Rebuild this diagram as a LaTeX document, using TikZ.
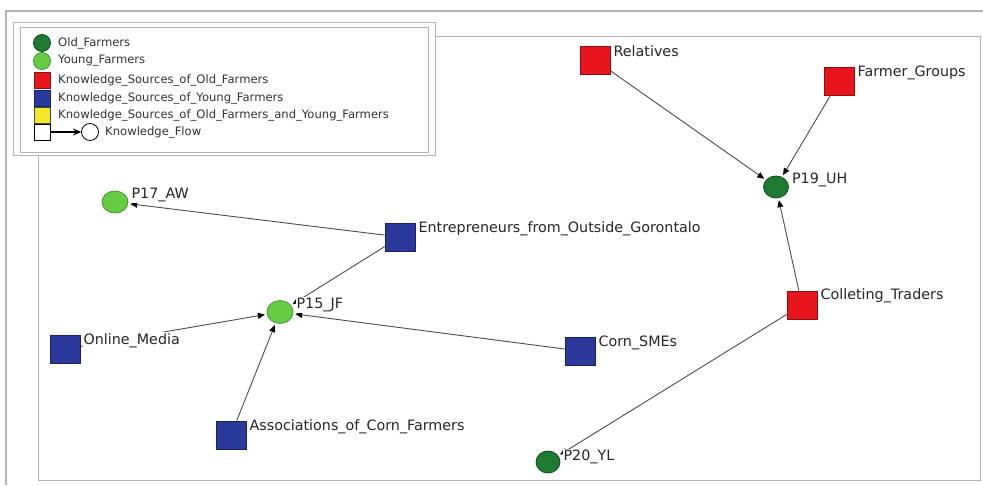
\documentclass[tikz,border=0pt]{standalone}
\usepackage{fontspec}
\setmainfont{DejaVu Sans}
\usetikzlibrary{arrows.meta,backgrounds,shapes.geometric}
\definecolor{oldg}{HTML}{1E7A33}
\definecolor{oldgb}{HTML}{0F4F1C}
\definecolor{youngg}{HTML}{66CC44}
\definecolor{younggb}{HTML}{3C9A2C}
\definecolor{srcred}{HTML}{E8161C}
\definecolor{srcredb}{HTML}{8A1010}
\definecolor{srcblue}{HTML}{2B3A9A}
\definecolor{srcblueb}{HTML}{18206A}
\definecolor{srcyel}{HTML}{F2E82A}
\definecolor{frameg}{HTML}{B4B4B4}
\begin{document}
\begin{tikzpicture}[x=1pt,y=-1pt,
  sq/.style={rectangle,draw,line width=0.8pt,minimum width=30pt,minimum height=28pt,inner sep=0pt},
  oldn/.style={ellipse,draw=oldgb,fill=oldg,line width=0.8pt,minimum width=25pt,minimum height=22pt,inner sep=0pt},
  youngn/.style={ellipse,draw=younggb,fill=youngg,line width=0.8pt,minimum width=26pt,minimum height=22pt,inner sep=0pt},
  redsq/.style={sq,draw=srcredb,fill=srcred},
  bluesq/.style={sq,draw=srcblueb,fill=srcblue},
  lbl/.style={fill=white,inner sep=1pt,text=black!85,anchor=west,font=\fontsize{14.3}{16}\selectfont},
  edge/.style={draw=black!70,line width=0.9pt,-{Triangle[length=7pt,width=6pt,color=black]},shorten >=2pt},
  legtxt/.style={anchor=west,inner sep=0pt,text=black!80,font=\fontsize{11.6}{13}\selectfont},
  legsq/.style={rectangle,draw,line width=0.8pt,minimum size=16pt,inner sep=0pt},
  legci/.style={circle,draw,line width=0.8pt,minimum size=17pt,inner sep=0pt}]
\useasboundingbox (0,0) rectangle (983,485);

% frames
\draw[frameg,line width=1.6pt] (6,485) -- (6,11) -- (983,11);
\draw[frameg,line width=0.8pt] (38,36) rectangle (980,480);

% legend
\node[draw=frameg,fill=white,line width=0.8pt,minimum width=422pt,minimum height=133pt,inner sep=0pt] (legout) at (224,88.5) {};
\node[draw=frameg,fill=white,line width=0.8pt,minimum width=408pt,minimum height=125pt,inner sep=0pt] (legin) at (224,89.5) {};
\node[legci,draw=oldgb,fill=oldg] (l1) at (42,43) {};
\node[legtxt] at (58,43) {Old\_Farmers};
\node[legci,draw=younggb,fill=youngg] (l2) at (42,61) {};
\node[legtxt] at (58,61) {Young\_Farmers};
\node[legsq,draw=srcredb,fill=srcred] (l3) at (42,80) {};
\node[legtxt] at (58,80) {Knowledge\_Sources\_of\_Old\_Farmers};
\node[legsq,draw=srcblueb,fill=srcblue] (l4) at (42,98) {};
\node[legtxt] at (58,98) {Knowledge\_Sources\_of\_Young\_Farmers};
\node[legsq,draw=black!70,fill=srcyel] (l5) at (42,115) {};
\node[legtxt] at (58,115) {Knowledge\_Sources\_of\_Old\_Farmers\_and\_Young\_Farmers};
\node[legsq,draw=black,fill=white] (l6a) at (42,132) {};
\node[legci,draw=black,fill=white] (l6b) at (90,132) {};
\draw[black,line width=1.5pt,-{Stealth[length=8pt,width=7pt]}] (l6a) -- (l6b);
\node[legtxt] at (105,132) {Knowledge\_Flow};

% nodes
\node[youngn] (p17) at (115,202) {};
\node[youngn,minimum height=23pt] (p15) at (280,312) {};
\node[oldn] (p19) at (776,187) {};
\node[oldn,minimum width=24pt] (p20) at (548,462) {};
\node[bluesq] (ent) at (400,237) {};
\node[bluesq] (onl) at (65,349) {};
\node[bluesq] (ass) at (231,435) {};
\node[bluesq] (smes) at (580,351) {};
\node[redsq] (rel) at (595,60) {};
\node[redsq] (fg) at (839,81) {};
\node[redsq] (ct) at (802,305) {};

% edges
\begin{pgfonlayer}{background}
\draw[edge] (ent) -- (p17);
\draw[edge] (ent) -- (p15);
\draw[edge] (onl) -- (p15);
\draw[edge] (ass) -- (p15);
\draw[edge] (smes) -- (p15);
\draw[edge] (rel) -- (p19);
\draw[edge] (fg) -- (p19);
\draw[edge] (ct) -- (p19);
\draw[edge] (ct) -- (p20);
\end{pgfonlayer}

% labels
\node[lbl] at ([xshift=2pt,yshift=7pt]p17.east) {P17\_AW};
\node[lbl] at ([xshift=2pt,yshift=7pt]p15.east) {P15\_JF};
\node[lbl] at ([xshift=2pt,yshift=7pt]p19.east) {P19\_UH};
\node[lbl] at ([xshift=2pt,yshift=5pt]p20.east) {P20\_YL};
\node[lbl] at ([xshift=2pt,yshift=-6pt]ent.north east) {Entrepreneurs\_from\_Outside\_Gorontalo};
\node[lbl] at ([xshift=2pt,yshift=-6pt]onl.north east) {Online\_Media};
\node[lbl] at ([xshift=2pt,yshift=-6pt]ass.north east) {Associations\_of\_Corn\_Farmers};
\node[lbl] at ([xshift=2pt,yshift=-6pt]smes.north east) {Corn\_SMEs};
\node[lbl] at ([xshift=2pt,yshift=-6pt]rel.north east) {Relatives};
\node[lbl] at ([xshift=2pt,yshift=-6pt]fg.north east) {Farmer\_Groups};
\node[lbl] at ([xshift=2pt,yshift=-5pt]ct.north east) {Colleting\_Traders};
\end{tikzpicture}
\end{document}
